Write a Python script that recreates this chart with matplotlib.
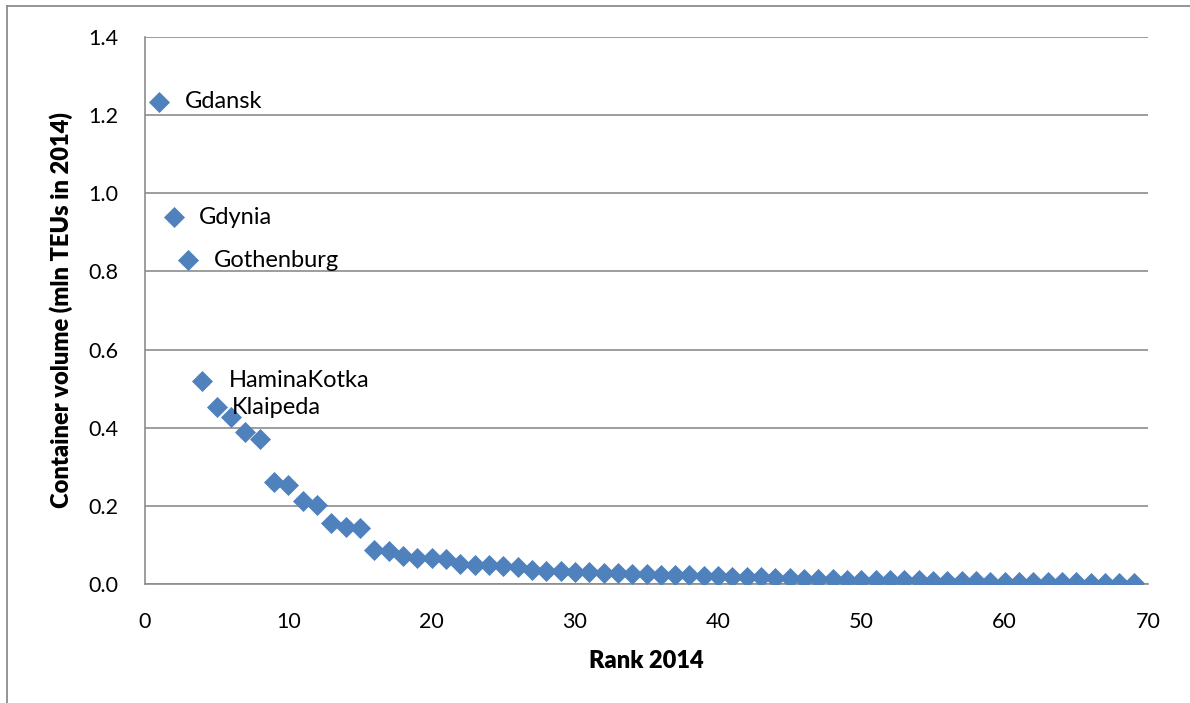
import numpy as np
import matplotlib.pyplot as plt
from matplotlib.lines import Line2D

# ─────────────────────────────────────────────
# Data
# ─────────────────────────────────────────────
rank = list(range(1, 70))
volume = [
    1.234, 0.939, 0.829, 0.520, 0.453, 0.427, 0.389, 0.371, 0.261, 0.253,
    0.212, 0.202, 0.156, 0.146, 0.143, 0.087, 0.084, 0.072, 0.067, 0.066,
    0.063, 0.051, 0.049, 0.048, 0.046, 0.043, 0.036, 0.034, 0.033, 0.031,
    0.030, 0.029, 0.027, 0.026, 0.025, 0.024, 0.023, 0.022, 0.021, 0.020,
    0.019, 0.018, 0.017, 0.016, 0.015, 0.014, 0.013, 0.012, 0.011, 0.011,
    0.010, 0.010, 0.009, 0.009, 0.008, 0.008, 0.007, 0.007, 0.006, 0.006,
    0.005, 0.005, 0.004, 0.004, 0.004, 0.003, 0.003, 0.002, 0.002,
]
port_names = ["Gdansk", "Gdynia", "Gothenburg", "HaminaKotka", "Klaipeda"]
label_offsets = [18.5, 18.5, 19.0, 19.0, 11.0]

FONT = ["Lato", "DejaVu Sans"]
BLUE = "#4F81BD"
GRID = "#8C8C8C"
FS = 15.5
FS_LABEL = 17

plt.rcParams["font.family"] = FONT

fig = plt.figure(figsize=(11.9, 7.03), dpi=100)
ax = fig.add_axes([145 / 1190, 1 - 584 / 703, (1148 - 145) / 1190, (584 - 37) / 703])

ax.scatter(rank, volume, marker="D", s=115, color=BLUE, linewidths=0, zorder=3)

for i, name in enumerate(port_names):
    ax.annotate(name, (rank[i], volume[i]), xytext=(label_offsets[i], 0),
                textcoords="offset points", va="center", ha="left", fontsize=FS_LABEL)

ax.set_xlim(0, 70)
ax.set_ylim(0, 1.4)
ax.set_xticks(np.arange(0, 71, 10))
ax.set_yticks(np.arange(0, 1.41, 0.2))
ax.set_yticklabels([f"{v:.1f}" for v in np.arange(0, 1.41, 0.2)])
ax.yaxis.grid(True, color=GRID, linewidth=1.2)
ax.set_axisbelow(True)

for side in ["top", "right"]:
    ax.spines[side].set_visible(False)
for side in ["left", "bottom"]:
    ax.spines[side].set_color(GRID)
    ax.spines[side].set_linewidth(1.2)

ax.tick_params(axis="y", length=0, labelsize=FS, pad=19)
ax.tick_params(axis="x", length=0, labelsize=FS, pad=20)

ax.set_xlabel("Rank 2014", fontsize=FS_LABEL, fontweight="heavy", labelpad=13)
ax.set_ylabel("Container volume (mln TEUs in 2014)", fontsize=FS_LABEL,
              fontweight="heavy", labelpad=11)

# outer chart frame (only left and top edges visible in the crop)
fig.add_artist(Line2D([7 / 1190, 7 / 1190], [0, 1 - 6 / 703],
                      transform=fig.transFigure, color="#8C8C8C", linewidth=1.3))
fig.add_artist(Line2D([7 / 1190, 1], [1 - 6 / 703, 1 - 6 / 703],
                      transform=fig.transFigure, color="#8C8C8C", linewidth=1.3))

fig.savefig("out.png", dpi=100)
